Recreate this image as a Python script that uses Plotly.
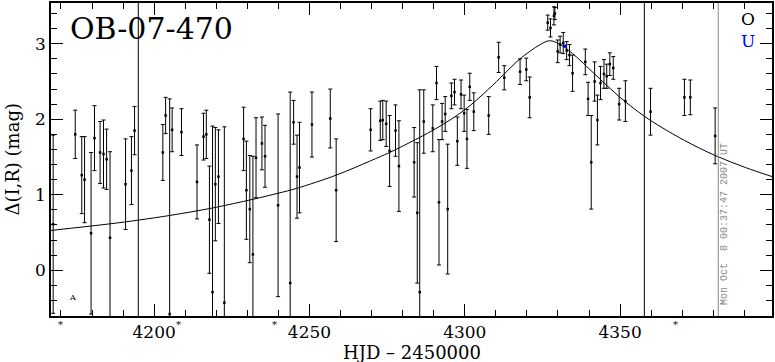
import plotly.graph_objects as go

# ---- data ----
hjd = [4167.5, 4174.6, 4176.7, 4177.6, 4179.7, 4180.8, 4182.6, 4183.7, 4184.7, 4185.8,
       4190.8, 4192.7, 4193.7, 4202.8, 4203.7, 4205.0, 4205.8, 4208.8, 4213.8, 4215.9,
       4216.8, 4217.8, 4218.8, 4219.7, 4220.7, 4222.6, 4228.8, 4229.7, 4230.8, 4231.8,
       4232.8, 4234.7, 4235.7, 4239.9, 4243.8, 4244.9, 4246.0, 4246.8, 4250.8, 4256.7,
       4258.6, 4269.7, 4272.8, 4273.6, 4274.7, 4275.8, 4277.7, 4278.8, 4283.7, 4284.7,
       4285.5, 4286.8, 4289.7, 4290.9, 4291.7, 4292.7, 4293.7, 4294.5, 4295.7, 4296.7,
       4297.6, 4298.8, 4299.8, 4300.7, 4301.6, 4302.9, 4307.7, 4310.9, 4312.7, 4317.8,
       4319.8, 4320.9, 4326.7, 4327.6, 4328.7, 4329.0, 4329.9, 4330.7, 4331.7, 4332.8,
       4333.7, 4334.7, 4338.8, 4339.7, 4340.7, 4341.8, 4342.7, 4343.7, 4344.8, 4345.7,
       4346.7, 4347.8, 4349.7, 4351.7, 4359.8, 4370.7, 4372.6, 4380.6]
mag = [0.61, 1.80, 1.26, 1.20, 0.49, 1.75, 1.56, 1.54, 1.47, 0.43,
       1.14, 1.32, 1.85, 1.56, 2.05, -0.58, 1.86, 1.83, 1.17, 1.77,
       1.80, 0.67, -0.29, 1.14, 1.24, -0.43, 1.74, 1.06, 0.81, 0.21,
       1.49, 1.68, 1.51, 0.86, -0.17, 1.96, 1.24, 1.36, 1.93, 2.01,
       1.06, 1.86, 1.98, 1.99, 1.94, 1.58, 1.85, 1.38, 1.43, 0.76,
       -0.29, 1.97, 1.88, 2.48, 0.90, 1.97, 2.07, 0.81, 2.31, 2.36,
       1.71, 2.33, 2.08, 1.74, 2.43, 2.10, 2.05, 2.82, 2.55, 2.63,
       2.66, 2.29, 3.28, 3.21, 3.37, 3.40, 2.90, 2.99, 3.01, 2.91,
       2.85, 2.61, 2.76, 2.27, 1.43, 2.50, 1.99, 2.48, 2.60, 2.57,
       2.73, 2.68, 2.20, 2.24, 2.10, 2.29, 2.29, 1.78]
err = [1.18, 0.32, 0.51, 0.57, 1.07, 0.43, 0.41, 0.45, 0.40, 1.14,
       0.60, 0.45, 0.32, 0.37, 0.24, 2.85, 0.29, 0.31, 0.49, 0.31,
       0.32, 0.71, 2.20, 0.75, 0.62, 2.33, 0.42, 0.65, 0.71, 1.30,
       0.53, 0.35, 0.41, 1.21, 2.53, 0.29, 0.55, 0.60, 0.43, 0.39,
       0.68, 0.28, 0.26, 0.26, 0.30, 0.47, 0.34, 0.60, 0.46, 0.93,
       2.68, 0.42, 0.31, 0.22, 0.83, 0.24, 0.23, 0.86, 0.17, 0.17,
       0.32, 0.19, 0.24, 0.39, 0.18, 0.25, 0.25, 0.20, 0.16, 0.17,
       0.15, 0.27, 0.10, 0.12, 0.12, 0.08, 0.15, 0.11, 0.14, 0.12,
       0.14, 0.24, 0.17, 0.22, 0.62, 0.26, 0.33, 0.22, 0.19, 0.16,
       0.15, 0.15, 0.21, 0.27, 0.31, 0.24, 0.23, 0.37]

u_hjd = [4332.2]
u_mag = [2.97]

model_hjd = [4166.5, 4185.8, 4194.9, 4205.7, 4218.8, 4231.8, 4239.9, 4245.9, 4258.6,
             4269.7, 4275.8, 4284.1, 4291.7, 4299.8, 4307.7, 4312.7, 4317.8, 4324.3,
             4327.3, 4330.3, 4334.7, 4341.8, 4349.7, 4357.8, 4363.5, 4370.7, 4380.6,
             4390.4, 4399.0]
model_mag = [0.526, 0.615, 0.664, 0.73, 0.825, 0.94, 1.02, 1.085, 1.26,
             1.45, 1.56, 1.73, 1.90, 2.12, 2.40, 2.60, 2.80, 2.99,
             3.04, 3.00, 2.87, 2.60, 2.30, 2.04, 1.89, 1.72, 1.52,
             1.36, 1.24]

vline_hjd = [4194.9, 4357.8]
now_hjd = 4381.6
star_hjd = [4169.7, 4207.9, 4238.8, 4367.7]
x_ticks = [4200, 4250, 4300, 4350]
y_ticks = [0, 1, 2, 3]

SERIF = "DejaVu Serif"

fig = go.Figure()
fig.add_trace(go.Scatter(
    x=model_hjd, y=model_mag, mode="lines",
    line=dict(color="black", width=1, shape="spline", smoothing=1.0),
    hoverinfo="skip", showlegend=False))
fig.add_trace(go.Scatter(
    x=hjd, y=mag, mode="markers",
    marker=dict(color="black", size=2.5, symbol="square"),
    error_y=dict(type="data", array=err, color="black", thickness=1, width=2),
    showlegend=False))
fig.add_trace(go.Scatter(
    x=u_hjd, y=u_mag, mode="markers",
    marker=dict(color="blue", size=3, symbol="square"),
    showlegend=False))

shapes = []
for v in vline_hjd:
    shapes.append(dict(type="line", xref="x", yref="paper", x0=v, x1=v, y0=0, y1=1,
                       line=dict(color="black", width=1)))
shapes.append(dict(type="line", xref="x", yref="paper", x0=now_hjd, x1=now_hjd, y0=0, y1=1,
                   line=dict(color="#888888", width=1)))

ann = []
ann.append(dict(text="OB-07-470", xref="paper", yref="paper", x=0.024, y=0.917,
                xanchor="left", yanchor="middle", showarrow=False,
                font=dict(family=SERIF, size=30, color="black")))
ann.append(dict(text="O", xref="paper", yref="paper", x=0.967, y=0.949,
                xanchor="center", yanchor="middle", showarrow=False,
                font=dict(family=SERIF, size=17, color="black")))
ann.append(dict(text="U", xref="paper", yref="paper", x=0.967, y=0.879,
                xanchor="center", yanchor="middle", showarrow=False,
                font=dict(family=SERIF, size=17, color="blue")))
ann.append(dict(text="A", xref="x", yref="y", x=4173.6, y=-0.36,
                showarrow=False, font=dict(family=SERIF, size=8, color="black")))
ann.append(dict(text="Mon Oct  8 00:37:47 2007 UT", xref="paper", yref="paper",
                x=0.934, y=0.295, textangle=-90, showarrow=False,
                xanchor="center", yanchor="middle",
                font=dict(family="Liberation Mono", size=10, color="#888888")))
for s in star_hjd:
    ann.append(dict(text="*", xref="x", yref="paper", x=s, y=0, yanchor="top",
                    yshift=-1, showarrow=False,
                    font=dict(family=SERIF, size=10, color="black")))
ann.append(dict(text="HJD – 2450000", xref="paper", yref="paper", x=0.5, y=-0.117,
                xanchor="center", yanchor="middle", showarrow=False,
                font=dict(family=SERIF, size=18, color="black")))
ann.append(dict(text="Δ(I,R) (mag)", xref="paper", yref="paper", x=-0.054, y=0.5,
                textangle=-90, xanchor="center", yanchor="middle", showarrow=False,
                font=dict(family=SERIF, size=18, color="black")))

fig.update_layout(
    width=775, height=362,
    margin=dict(l=51, r=2, t=1, b=46),
    paper_bgcolor="white", plot_bgcolor="white",
    shapes=shapes, annotations=ann,
    showlegend=False, hovermode=False,
    font=dict(family=SERIF, size=17, color="black"),
)
fig.update_xaxes(
    range=[4166.8, 4398.9], tickvals=x_ticks, ticktext=[str(t) for t in x_ticks],
    ticks="inside", ticklen=12, tickwidth=1, tickcolor="black",
    minor=dict(dtick=10, tick0=4200, ticks="inside", ticklen=6, tickcolor="black", tickwidth=1),
    showline=True, linecolor="black", linewidth=1.5, mirror="allticks",
    showgrid=False, zeroline=False, tickfont=dict(family=SERIF, size=17),
)
fig.update_yaxes(
    range=[-0.606, 3.54], tickvals=y_ticks, ticktext=[str(t) for t in y_ticks],
    ticks="inside", ticklen=12, tickwidth=1, tickcolor="black",
    minor=dict(dtick=0.2, tick0=0, ticks="inside", ticklen=6, tickcolor="black", tickwidth=1),
    showline=True, linecolor="black", linewidth=1.5, mirror="allticks",
    showgrid=False, zeroline=False, tickfont=dict(family=SERIF, size=17),
)

fig.write_html("out.html", config={"displayModeBar": False},
               post_script="document.body.style.margin='0';")
